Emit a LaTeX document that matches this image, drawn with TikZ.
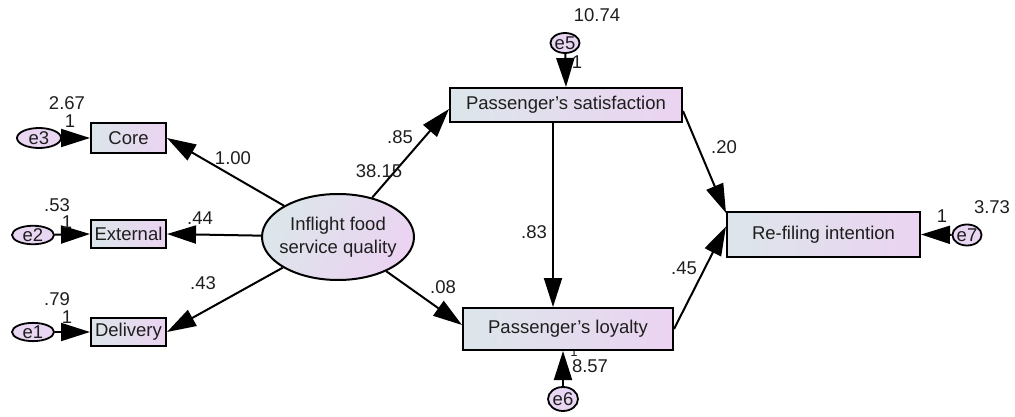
\documentclass[tikz,border=0pt]{standalone}
\usepackage{fontspec}
\setmainfont{Liberation Sans}
\usetikzlibrary{arrows.meta,shapes.geometric}
\definecolor{shL}{HTML}{DCE6EA}
\definecolor{shR}{HTML}{EBD3F1}
\definecolor{efill}{HTML}{E8D6F2}
\definecolor{ink}{HTML}{1E1E1E}
\tikzset{
  txt/.style={font=\fontsize{18.5}{23}\selectfont, text=ink},
  obs/.style={txt, draw=black, line width=2pt, rectangle, left color=shL, right color=shR, inner sep=0pt},
  err/.style={txt, draw=black, line width=1.8pt, ellipse, fill=efill, inner sep=0pt},
  lat/.style={txt, draw=black, line width=2pt, ellipse, left color=shL, right color=shR, shading angle=60, inner xsep=-6pt, inner ysep=0pt, align=center},
  arr/.style={draw=black, line width=2pt, -{Triangle[length=29pt,width=18pt]}},
  lab/.style={txt, inner sep=0pt}
}
\begin{document}
\begin{tikzpicture}[x=1pt,y=-1pt]
\useasboundingbox (0,0) rectangle (1015,417);
% label partly hidden under box
\node[lab, font=\fontsize{13}{13}\selectfont] (l6) at (574,352) {1};
% nodes
\node[obs, minimum width=75pt, minimum height=30pt] (core) at (128.5,138) {Core};
\node[obs, minimum width=75pt, minimum height=28pt] (ext) at (128.5,234) {External};
\node[obs, minimum width=75pt, minimum height=28pt] (del) at (128.5,332) {Delivery};
\node[err, minimum width=44pt, minimum height=20pt] (e3) at (39,138) {e3};
\node[err, minimum width=42pt, minimum height=18pt] (e2) at (33,235) {e2};
\node[err, minimum width=42pt, minimum height=18pt] (e1) at (33,332) {e1};
\node[lat, minimum width=152pt, minimum height=86pt] (inf) at (338,237) {Inflight food\\service quality};
\node[obs, minimum width=232pt, minimum height=34pt] (sat) at (566,105) {Passenger's satisfaction};
\node[obs, minimum width=210pt, minimum height=42pt] (loy) at (568,329) {Passenger’s loyalty};
\node[obs, minimum width=193pt, minimum height=45pt] (ref) at (823.5,234.5) {Re-filing intention};
\node[err, minimum width=24pt, minimum height=20pt] (e5) at (565,43) {e5};
\node[err, minimum width=30pt, minimum height=24pt] (e6) at (563,399) {e6};
\node[err, minimum width=28pt, minimum height=21pt] (e7) at (967,235) {e7};
% connectors
\draw[arr] (e3) -- (core.west);
\draw[arr] (e2) -- (ext.west);
\draw[arr] (e1) -- (del.west);
\draw[arr] (inf) -- (core.east);
\draw[arr] (inf) -- (ext.east);
\draw[arr] (inf) -- (del.east);
\draw[arr] (inf) -- ([yshift=-4pt]sat.west);
\draw[arr] (inf) -- ([yshift=4pt]loy.west);
\draw[arr] ([xshift=-13pt]sat.south) -- ([xshift=-15pt]loy.north);
\draw[arr] ([yshift=-6pt]sat.east) -- ([yshift=-2pt]ref.north west);
\draw[arr] (loy.east) -- ([yshift=8pt]ref.west);
\draw[arr] (e5) -- (sat.north);
\draw[arr] (e6) -- ([xshift=-5pt]loy.south);
\draw[arr] (e7) -- (ref.east);
% labels
\node[lab] (l1) at (67,103) {2.67};
\node[lab] (l2) at (70,121) {1};
\node[lab] (l3) at (57,205) {.53};
\node[lab] (l4) at (67,222) {1};
\node[lab] (l5) at (57,299) {.79};
\node[lab] (l7) at (67,317) {1};
\node[lab] (l8) at (233,158) {1.00};
\node[lab] (l9) at (200,218) {.44};
\node[lab] (l10) at (203,283) {.43};
\node[lab] (l11) at (400,137) {.85};
\node[lab] (l12) at (379,171) {38.15};
\node[lab] (l13) at (443,287) {.08};
\node[lab] (l14) at (534,232) {.83};
\node[lab] (l15) at (724,147) {.20};
\node[lab] (l16) at (684,268) {.45};
\node[lab] (l17) at (597,15) {10.74};
\node[lab] (l18) at (577,62) {1};
\node[lab] (l19) at (590,366) {8.57};
\node[lab] (l20) at (942,216) {1};
\node[lab] (l21) at (992,207) {3.73};
\end{tikzpicture}
\end{document}
